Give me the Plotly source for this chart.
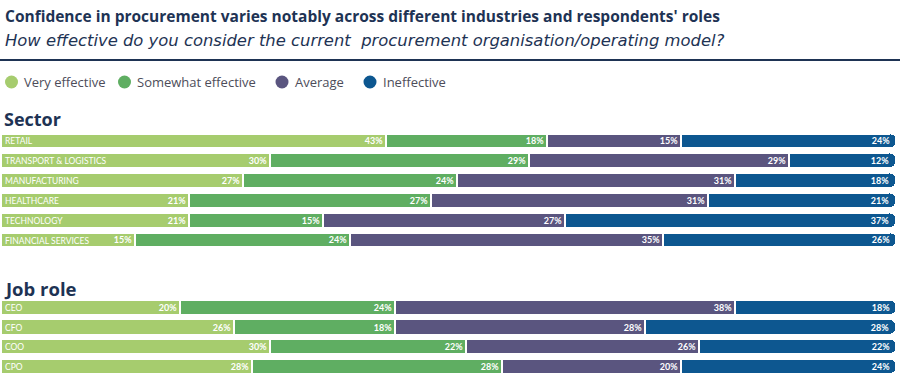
import plotly.graph_objects as go

# ---- data ----
series_names = ["Very effective", "Somewhat effective", "Average", "Ineffective"]
series_colors = ["#a6cc6e", "#5fae62", "#5a557f", "#0d5790"]

sector_categories = ["RETAIL", "TRANSPORT & LOGISTICS", "MANUFACTURING",
                     "HEALTHCARE", "TECHNOLOGY", "FINANCIAL SERVICES"]
sector_very = [43, 30, 27, 21, 21, 15]
sector_somewhat = [18, 29, 24, 27, 15, 24]
sector_average = [15, 29, 31, 31, 27, 35]
sector_ineffective = [24, 12, 18, 21, 37, 26]

role_categories = ["CEO", "CFO", "COO", "CPO"]
role_very = [20, 26, 30, 28]
role_somewhat = [24, 18, 22, 28]
role_average = [38, 28, 26, 20]
role_ineffective = [18, 28, 22, 24]

title_text = "Confidence in procurement varies notably across different industries and respondents' roles"
subtitle_text = "How effective do you consider the current  procurement organisation/operating model?"
section_titles = ["Sector", "Job role"]

W, H = 900, 382
NAVY = "#1e3354"
LABEL_FONT = "Lato"
HEAD_FONT = "Open Sans"

fig = go.Figure()

sector_vals = [sector_very, sector_somewhat, sector_average, sector_ineffective]
role_vals = [role_very, role_somewhat, role_average, role_ineffective]

for vals, cats, xa, ya in [(sector_vals, sector_categories, "x", "y"),
                           (role_vals, role_categories, "x2", "y2")]:
    for name, color, v in zip(series_names, series_colors, vals):
        fig.add_trace(go.Bar(
            x=v, y=cats, orientation="h", name=name,
            marker=dict(color=color, line=dict(color="white", width=1.6)),
            text=[f"{t}%" for t in v], textposition="inside",
            insidetextanchor="end", textangle=0, constraintext="none",
            textfont=dict(family=LABEL_FONT, size=9, color="white", weight="bold"),
            width=0.74, showlegend=False, xaxis=xa, yaxis=ya,
            hoverinfo="skip", cliponaxis=False,
        ))

x_dom = [2 / W, 897 / W]
sector_dom = [1 - 250.5 / H, 1 - 131.5 / H]
role_dom = [1 - 377.0 / H, 1 - 298.3 / H]

yaxis_common = dict(
    autorange="reversed", ticklabelposition="inside", ticks="",
    showgrid=False, zeroline=False, showline=False,
    tickfont=dict(family=LABEL_FONT, size=8.5, color="white"),
)
xaxis_common = dict(range=[0, 100], visible=False, fixedrange=True)

fig.update_layout(
    width=W, height=H,
    margin=dict(l=0, r=0, t=0, b=0, autoexpand=False),
    paper_bgcolor="white", plot_bgcolor="white",
    barmode="stack", bargap=0, barcornerradius="45%",
    uniformtext=dict(minsize=9, mode="show"),
    xaxis=dict(domain=x_dom, anchor="y", **xaxis_common),
    xaxis2=dict(domain=x_dom, anchor="y2", **xaxis_common),
    yaxis=dict(domain=sector_dom, anchor="x", categoryorder="array",
               categoryarray=sector_categories, fixedrange=True, **yaxis_common),
    yaxis2=dict(domain=role_dom, anchor="x2", categoryorder="array",
                categoryarray=role_categories, fixedrange=True, **yaxis_common),
    showlegend=False,
    font=dict(family=LABEL_FONT),
)

annotations = [
    dict(text=f"<b>{title_text}</b>", x=3 / W, y=1 - 16 / H,
         font=dict(family=HEAD_FONT, size=15.5, color=NAVY)),
    dict(text=f"<i>{subtitle_text}</i>", x=3 / W, y=1 - 40 / H,
         font=dict(family="DejaVu Sans", size=16.4, color=NAVY)),
    dict(text=f"<b>{section_titles[0]}</b>", x=2 / W, y=1 - 119 / H,
         font=dict(family=HEAD_FONT, size=18, color=NAVY)),
    dict(text=f"<b>{section_titles[1]}</b>", x=2 / W, y=1 - 288 / H,
         font=dict(family=HEAD_FONT, size=18.5, color=NAVY)),
]
for a in annotations:
    fig.add_annotation(xref="paper", yref="paper", xanchor="left", yanchor="middle",
                       showarrow=False, **a)

# legend: circle swatch + label
legend_cx = [11.5, 124.5, 282, 370]
legend_cy = 82
legend_r = 6.5
for name, color, cx in zip(series_names, series_colors, legend_cx):
    fig.add_shape(type="circle", xref="paper", yref="paper",
                  x0=(cx - legend_r) / W, x1=(cx + legend_r) / W,
                  y0=1 - (legend_cy + legend_r) / H, y1=1 - (legend_cy - legend_r) / H,
                  fillcolor=color, line=dict(width=0))
    fig.add_annotation(
        xref="paper", yref="paper", x=(cx + 10.5) / W, y=1 - legend_cy / H,
        xanchor="left", yanchor="middle", showarrow=False, text=name,
        font=dict(family=HEAD_FONT, size=13, color="#4d4d5a"),
    )

fig.add_shape(type="line", xref="paper", yref="paper", x0=0, x1=1,
              y0=1 - 60 / H, y1=1 - 60 / H, line=dict(color=NAVY, width=2))

fig.write_html("out.html", config={"displayModeBar": False},
               post_script="document.body.style.margin='0';")
